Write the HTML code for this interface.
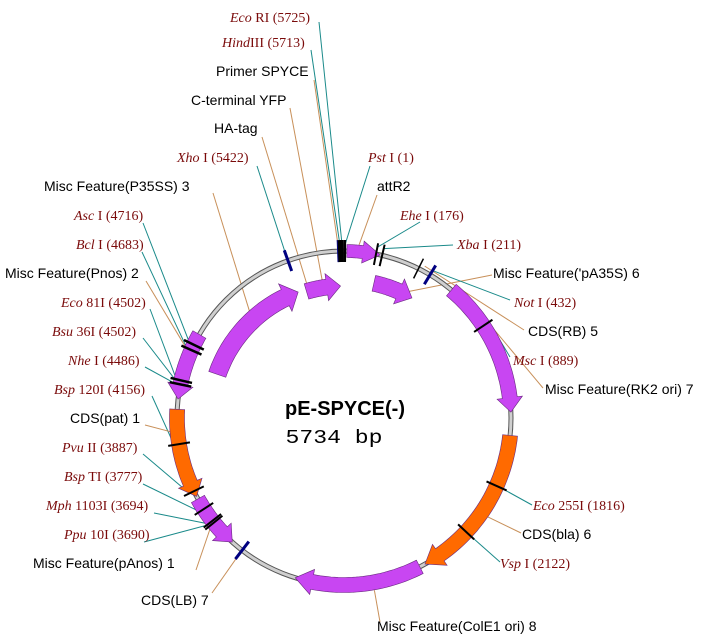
<!DOCTYPE html>
<html><head><meta charset="utf-8"><style>
html,body{margin:0;padding:0;background:#fff}
svg{display:block}
.e{font-family:"Liberation Serif",serif;font-size:14px;fill:#7a0a0a}
.e tspan.i{font-style:italic}
.f{font-family:"Liberation Sans",sans-serif;font-size:14px;fill:#000}
</style></head><body>
<svg id="s" width="701" height="634" viewBox="0 0 701 634" xmlns="http://www.w3.org/2000/svg">
<g id="g"></g>
<text class="e" x="230" y="22"><tspan class="i">Eco</tspan> RI (5725)</text>
<text class="e" x="222" y="47"><tspan class="i">Hind</tspan>III (5713)</text>
<text class="f" x="216" y="76">Primer SPYCE</text>
<text class="f" x="191" y="105">C-terminal YFP</text>
<text class="f" x="214" y="133">HA-tag</text>
<text class="e" x="177" y="162"><tspan class="i">Xho</tspan> I (5422)</text>
<text class="e" x="368" y="162"><tspan class="i">Pst</tspan> I (1)</text>
<text class="f" x="44" y="191">Misc Feature(P35SS) 3</text>
<text class="f" x="377" y="191">attR2</text>
<text class="e" x="74" y="220"><tspan class="i">Asc</tspan> I (4716)</text>
<text class="e" x="400" y="220"><tspan class="i">Ehe</tspan> I (176)</text>
<text class="e" x="76" y="249"><tspan class="i">Bcl</tspan> I (4683)</text>
<text class="e" x="457" y="249"><tspan class="i">Xba</tspan> I (211)</text>
<text class="f" x="5" y="278">Misc Feature(Pnos) 2</text>
<text class="f" x="493" y="278">Misc Feature('pA35S) 6</text>
<text class="e" x="61" y="307"><tspan class="i">Eco</tspan> 81I (4502)</text>
<text class="e" x="514" y="307"><tspan class="i">Not</tspan> I (432)</text>
<text class="e" x="52" y="336"><tspan class="i">Bsu</tspan> 36I (4502)</text>
<text class="f" x="528" y="336">CDS(RB) 5</text>
<text class="e" x="68" y="365"><tspan class="i">Nhe</tspan> I (4486)</text>
<text class="e" x="513" y="365"><tspan class="i">Msc</tspan> I (889)</text>
<text class="f" x="545" y="394">Misc Feature(RK2 ori) 7</text>
<text class="e" x="54" y="394"><tspan class="i">Bsp</tspan> 120I (4156)</text>
<text class="f" x="70" y="423">CDS(pat) 1</text>
<text class="e" x="62" y="452"><tspan class="i">Pvu</tspan> II (3887)</text>
<text class="e" x="64" y="481"><tspan class="i">Bsp</tspan> TI (3777)</text>
<text class="e" x="46" y="510"><tspan class="i">Mph</tspan> 1103I (3694)</text>
<text class="e" x="533" y="510"><tspan class="i">Eco</tspan> 255I (1816)</text>
<text class="e" x="64" y="539"><tspan class="i">Ppu</tspan> 10I (3690)</text>
<text class="f" x="522" y="539">CDS(bla) 6</text>
<text class="f" x="33" y="568">Misc Feature(pAnos) 1</text>
<text class="e" x="500" y="568"><tspan class="i">Vsp</tspan> I (2122)</text>
<text class="f" x="141" y="605">CDS(LB) 7</text>
<text class="f" x="377" y="631">Misc Feature(ColE1 ori) 8</text>
<text x="345" y="415" text-anchor="middle" textLength="120" lengthAdjust="spacingAndGlyphs" style="font-family:'Liberation Sans',sans-serif;font-weight:bold;font-size:20px">pE-SPYCE(-)</text>
<text x="334" y="443" text-anchor="middle" textLength="97" lengthAdjust="spacingAndGlyphs" style="font-family:'Liberation Mono',monospace;font-size:19px">5734 bp</text>
</svg>
<script>
var CX=344,CY=418,R=167,NS="http://www.w3.org/2000/svg",g=document.getElementById("g");
function P(a,r){var t=a*Math.PI/180;return [CX+r*Math.sin(t),CY-r*Math.cos(t)];}
function el(n,at){var e=document.createElementNS(NS,n);for(var k in at)e.setAttribute(k,at[k]);g.appendChild(e);return e;}
function line(x1,y1,x2,y2,c,w){el("line",{x1:x1,y1:y1,x2:x2,y2:y2,stroke:c,"stroke-width":w||1});}
var T="#1a8a8a",B="#c8905a";
var L=[[319,22,359.4,T,172],[311,50,358.7,T,172],[314,80,358.2,B,168],[290,108,351,B,140],[262,137,344.5,B,138],[257,166,340.4,T,172],
[370,166,0.2,T,172],[377,195,5,B,174],[420,222,11.05,T,174],[453,245,13.2,T,174],[492,275,26,B,140],[510,300,31,T,172],[524,330,28,B,172],[510,357,56,T,174],[543,388,48,B,172],
[213,193,318,B,140],[143,223,296,T,172],[142,252,294,T,172],[146,281,292,B,165],[150,309,283,T,172],[143,338,282.5,T,172],[145,367,281.5,T,172],[152,396,261,T,172],[145,425,265,B,170],
[143,454,244,T,172],[143,484,237,T,172],[154,513,232,T,172],[144,542,231.7,T,172],[196,570,233,B,162],[212,593,217.6,B,170],
[532,505,114,T,172],[521,533,125,B,165],[500,562,133,T,168],[380,622,170,B,175]];
L.forEach(function(l){var p=P(l[2],l[4]);line(l[0],l[1],p[0],p[1],l[3],1);});
el("circle",{cx:CX,cy:CY,r:R,fill:"none",stroke:"#555","stroke-width":5});
el("circle",{cx:CX,cy:CY,r:R,fill:"none",stroke:"#cfcfcf","stroke-width":3});
function arrow(a1,a2,r,w,col,head){
 var dir=a2>a1?1:-1,hl=Math.min(head,Math.abs(a2-a1)),ab=a2-dir*hl,ri=r-w/2,ro=r+w/2,hi=r-w*0.85,ho=r+w*0.85;
 var d="",p,n=30,i;
 for(i=0;i<=n;i++){p=P(a1+(ab-a1)*i/n,ro);d+=(i?"L":"M")+p[0].toFixed(1)+" "+p[1].toFixed(1);}
 p=P(ab,ho);d+="L"+p[0]+" "+p[1];p=P(a2,r);d+="L"+p[0]+" "+p[1];p=P(ab,hi);d+="L"+p[0]+" "+p[1];
 for(i=n;i>=0;i--){p=P(a1+(ab-a1)*i/n,ri);d+="L"+p[0].toFixed(1)+" "+p[1].toFixed(1);}
 el("path",{d:d+"Z",fill:col,stroke:"#6a2a80","stroke-width":0.6});
}
var PU="#c846f2",OR="#ff6a00";
arrow(1,12.5,167,13,PU,6);
arrow(40,88,167,15,PU,5);
arrow(96,151,167,15,OR,6);
arrow(153,197,167,15,PU,6);
arrow(241,222,167,15,PU,5);
arrow(273,242,167,15,OR,5);
arrow(300,276.5,167,15,PU,5);
arrow(289,340,134,18,PU,6);
arrow(343.5,358.5,132,16,PU,6);
arrow(12.5,29.5,138,16,PU,6);
var K=[[358.4,"#000",3],[359.2,"#000",3],[0.2,"#000",3],[357.8,"#000080",1],[340.4,"#000080",3],[11.05,"#000",2],[13.2,"#000",2],[26.5,"#000",1.5],[31,"#000080",3],[56.5,"#000",2],
[114,"#000",2],[133,"#000",2],[217.6,"#000080",3],[294,"#000",2.5],[296,"#000",2.5],[281.6,"#000",2.5],[283,"#000",2.5],[261,"#000",2],[244,"#000",2],[237,"#000",2],[232,"#000",2],[231.2,"#000",2]];
K.forEach(function(k){var a=P(k[0],R-11),b=P(k[0],R+11);line(a[0],a[1],b[0],b[1],k[1],k[2]);});
</script>
</body></html>
